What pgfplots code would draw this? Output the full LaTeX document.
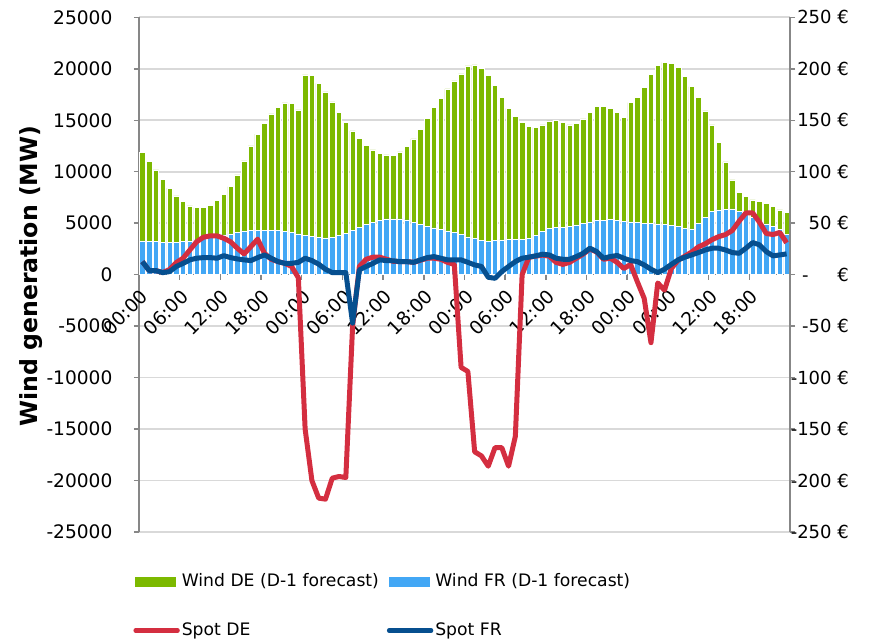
\documentclass[border=0pt]{standalone}
\usepackage{fontspec}
\setmainfont{DejaVu Sans}
\usepackage{pgfplots}
\usepackage{pgfplotstable}
\pgfplotsset{compat=1.18}

\definecolor{windde}{HTML}{7CB900}
\definecolor{windfr}{HTML}{42A7F5}
\definecolor{spotde}{HTML}{D42E40}
\definecolor{spotfr}{HTML}{064F8F}
\definecolor{axisgray}{HTML}{878787}
\definecolor{gridgray}{HTML}{D9D9D9}

% hourly values over four days: wind forecasts (MW) and spot prices (EUR/MWh)
\pgfplotstableread{
h  fr    de     sde    sfr
0  3280  8610   12.7   12.7
1  3210  7770   4      4
2  3200  6975   4      4
3  3150  6120   2      2
4  3150  5250   5      3
5  3170  4480   11.8   8
6  3200  3900   16     11
7  3280  3400   24     14.4
8  3380  3135   32     16
9  3500  3015   36.4   16.6
10 3700  3045   37.7   16.6
11 3800  3400   37.7   16
12 3860  3955   35.4   18.5
13 3960  4595   32     16.6
14 4090  5600   25.7   15.3
15 4260  6790   20.2   14.4
16 4300  8200   27.3   13.7
17 4330  9320   34.5   16.6
18 4330  10370  20.8   19.2
19 4300  11310  15     16
20 4270  11990  12.7   12.7
21 4190  12490  11     11
22 4070  12540  8      11
23 3960  12040  -3     12
24 3800  15600  -150   16
25 3700  15630  -200   13.7
26 3620  14970  -217   10.2
27 3570  14180  -218   5.3
28 3620  13160  -197.6 2
29 3820  11950  -196   2
30 4030  10770  -197   2
31 4300  9660   -50    -47
32 4580  8670   8      4.7
33 4870  7700   15     8
34 5060  7060   17     11
35 5270  6530   17     14.4
36 5420  6210   15     13.7
37 5420  6180   13     13.5
38 5420  6500   12.7   12.7
39 5330  7110   12.7   12.7
40 5080  8100   12     12
41 4870  9280   14     14.4
42 4670  10520  16     16.6
43 4540  11690  16     17.6
44 4420  12710  15     16
45 4250  13790  12     14.4
46 4090  14730  10     14.4
47 3930  15570  -90    14.4
48 3670  16600  -94    12
49 3500  16870  -172   9.5
50 3310  16740  -176   8
51 3250  16120  -186   -2.5
52 3310  15050  -168   -3.5
53 3380  13850  -168   3
54 3390  12770  -186   8
55 3390  11960  -157   12.7
56 3410  11420  0      16
57 3500  10880  17     17
58 3830  10450  18     18.3
59 4190  10350  19     19.9
60 4510  10420  18     19.2
61 4570  10430  12     16
62 4590  10210  10     15
63 4670  9870   12     15
64 4830  9840   16     17.6
65 5000  10130  20     20.8
66 5130  10670  25     25.7
67 5250  11070  22     22.4
68 5300  11050  15     16
69 5360  10800  16     17.6
70 5290  10470  12     18.7
71 5160  10090  6      16
72 5130  11580  10     13.7
73 5060  12170  -7     12.7
74 5000  13200  -23    9.5
75 4980  14450  -66    5.3
76 4930  15410  -8     2
77 4900  15730  -15    5.3
78 4770  15760  6      10
79 4670  15440  14     14.4
80 4510  14720  18     17
81 4450  13810  22     19.2
82 5000  12200  27     21.5
83 5540  10360  30     24
84 6130  8410   34     25.7
85 6290  6570   37     25.7
86 6350  4600   39     24
87 6390  2810   43     21.5
88 6160  1850   52     20.8
89 5870  1720   60     25.7
90 5540  1720   60     31.2
91 5160  1940   51     29
92 4930  1970   40     22.4
93 4670  1940   39     18.3
94 4420  1870   41     19.2
95 3930  2100   31     20.2
}\hourly

\pgfplotsset{
  common/.style={
    at={(0,0)}, anchor=south west,
    scale only axis, width=325.5pt, height=257.4pt,
    xmin=-0.5, xmax=95.5,
    minor tick num=0,
    scaled y ticks=false, scaled x ticks=false,
    tick label style={font=\fontsize{9.3}{11}\selectfont},
  },
  plainlines/.style={
    axis line style={-, draw=axisgray, line width=0.75pt},
    x axis line style={-}, y axis line style={-},
    tick style={draw=axisgray, line width=0.75pt},
    major tick length=2.6pt,
    tick align=outside,
  },
  barlegend/.style={legend image code/.code={\fill[##1] (0pt,-2.2pt) rectangle (20pt,2.2pt);}},
  linelegend/.style={legend image code/.code={\draw[##1, line width=2.2pt, line cap=round] (0pt,0pt) -- (21pt,0pt);}},
}

\begin{document}
\begin{tikzpicture}
\useasboundingbox (-69.5pt,-54pt) rectangle (373pt,266.05pt);

% wind generation, stacked bars on the left axis
\begin{axis}[
  common,
  ymin=-25000, ymax=25000,
  axis y line=left, axis x line=middle,
  plainlines,
  hide obscured x ticks=false,
  ybar stacked, bar width=0.8,
  ytick={-25000,-20000,-15000,-10000,-5000,0,5000,10000,15000,20000,25000},
  yticklabels={-25000,-20000,-15000,-10000,-5000,0,5000,10000,15000,20000,25000},
  yticklabel style={anchor=east, inner sep=0pt, xshift=-10.5pt},
  xtick={-0.5,5.5,11.5,17.5,23.5,29.5,35.5,41.5,47.5,53.5,59.5,65.5,71.5,77.5,83.5,89.5},
  xticklabels={00:00,06:00,12:00,18:00,00:00,06:00,12:00,18:00,00:00,06:00,12:00,18:00,00:00,06:00,12:00,18:00},
  xticklabel style={inner sep=0pt, xshift=2.75pt, yshift=-6.6pt, rotate=45, anchor=east},
  ymajorgrids,
  major grid style={draw=gridgray, line width=0.8pt},
  ylabel={Wind generation (MW)},
  ylabel style={font=\bfseries\fontsize{11.8}{14}\selectfont, at={(axis description cs:-0.166,0.497)}, anchor=center},
]
\addplot[fill=windfr, draw=white, line width=0.3pt] table[x=h, y=fr] {\hourly};
\addplot[fill=windde, draw=white, line width=0.3pt] table[x=h, y=de] {\hourly};
\end{axis}

% spot prices on the right axis
\begin{axis}[
  common,
  ymin=-250, ymax=250,
  axis x line=none, axis y line*=right,
  plainlines,
  ytick={-250,-200,-150,-100,-50,0,50,100,150,200,250},
  yticklabels={-250 €,-200 €,-150 €,-100 €,-50 €,{-\phantom{50} €},50 €,100 €,150 €,200 €,250 €},
  yticklabel style={anchor=east, inner sep=0pt, xshift=27pt, font=\fontsize{9}{11}\selectfont},
  legend columns=2,
  legend style={at={(axis description cs:-0.0092,-0.072)}, anchor=north west,
    draw=none, fill=none, inner sep=0pt, font=\fontsize{8.6}{10.5}\selectfont,
    nodes={inner xsep=1pt},
    row sep=12.5pt, cells={anchor=west},
    /tikz/every even column/.append style={column sep=3pt}},
]
\addlegendimage{barlegend, windde}
\addlegendentry{Wind DE (D-1 forecast)}
\addlegendimage{barlegend, windfr}
\addlegendentry{Wind FR (D-1 forecast)}
\addplot[spotde, line width=2.5pt, line join=round, sharp plot, linelegend]
  table[x=h, y=sde] {\hourly};
\addlegendentry{Spot DE}
\addplot[spotfr, line width=2.5pt, line join=round, sharp plot, linelegend]
  table[x=h, y=sfr] {\hourly};
\addlegendentry{Spot FR}
\end{axis}
\end{tikzpicture}
\end{document}
